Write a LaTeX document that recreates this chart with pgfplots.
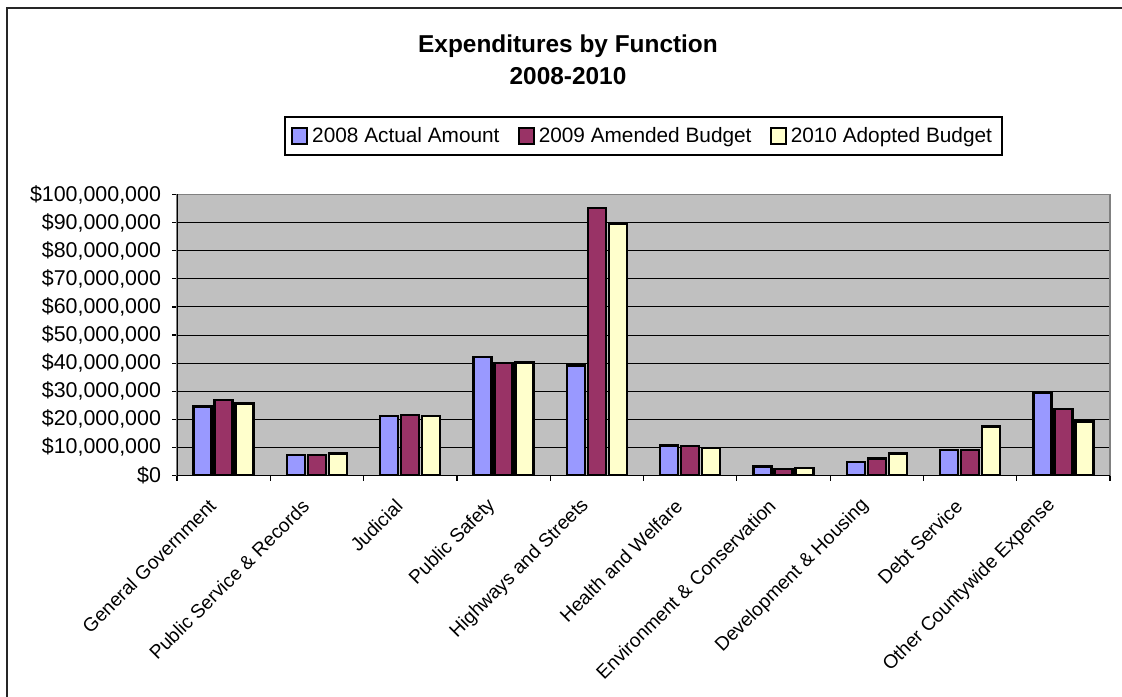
\documentclass[border=0pt]{standalone}
\usepackage{pgfplots}
\pgfplotsset{compat=1.18}
\usepackage{fontspec}
\setmainfont{Liberation Sans}
\definecolor{bblue}{HTML}{9999FF}
\definecolor{bred}{HTML}{993366}
\definecolor{byellow}{HTML}{FFFFCC}
\definecolor{bgray}{HTML}{C0C0C0}
\definecolor{frame}{HTML}{808080}
\begin{document}
\begin{tikzpicture}
\useasboundingbox (0,0) rectangle (561pt,348pt);
\draw[line width=1pt, black!85] (3.5pt,-2pt) -- (3.5pt,344pt) -- (563pt,344pt);
\begin{axis}[
  at={(88.5pt,110.25pt)}, anchor=south west,
  scale only axis, width=466.5pt, height=140.5pt,
  xmin=-0.5, xmax=9.5, ymin=0, ymax=100,
  axis background/.style={fill=bgray},
  axis line style={draw=frame, line width=0.6pt},
  ybar, bar width=9pt,
  ymajorgrids, grid style={black, line width=0.5pt},
  tick align=outside, tick pos=left,
  major tick length=2.5pt,
  tick style={black, line width=0.6pt},
  ytick={0,10,...,100},
  yticklabels={{\$0},{\$10,000,000},{\$20,000,000},{\$30,000,000},{\$40,000,000},{\$50,000,000},{\$60,000,000},{\$70,000,000},{\$80,000,000},{\$90,000,000},{\$100,000,000}},
  xtick={-0.5,0.5,...,9.5},
  xticklabels={},
  extra x ticks={0,1,2,3,4,5,6,7,8,9},
  extra x tick labels={General Government,Public Service \& Records,Judicial,Public Safety,Highways and Streets,Health and Welfare,Environment \& Conservation,Development \& Housing,Debt Service,Other Countywide Expense},
  extra x tick style={major tick length=0pt, grid=none},
  yticklabel style={font=\fontsize{10.7}{12}\selectfont, xshift=-2pt},
  xticklabel style={font=\fontsize{9.6}{11.5}\selectfont, xshift=-5.5pt, yshift=-13.5pt, rotate=45, anchor=east, inner sep=0pt},
  legend columns=3,
  legend style={at={(0.5,1.208)}, anchor=center, draw=black, line width=0.6pt,
    font=\fontsize{10.4}{12}\selectfont, inner xsep=3pt, inner ysep=3pt,
    /tikz/every even column/.append style={column sep=7pt}},
  legend image code/.code={\draw[#1, line width=1pt] (0pt,-3.8pt) rectangle (7.6pt,3.8pt);},
  every axis plot/.append style={draw=black, line width=1.2pt},
]
\addplot[fill=bblue, bar shift=-10.5pt] coordinates {(0,24.6) (1,7.4) (2,21.2) (3,42.1) (4,39.1) (5,10.7) (6,3.2) (7,4.9) (8,9.0) (9,29.5)};
\addplot[fill=bred, bar shift=0pt] coordinates {(0,26.9) (1,7.3) (2,21.5) (3,40.0) (4,95.3) (5,10.4) (6,2.3) (7,6.1) (8,9.0) (9,23.7)};
\addplot[fill=byellow, bar shift=10.5pt] coordinates {(0,25.6) (1,7.8) (2,21.1) (3,40.2) (4,89.4) (5,9.7) (6,2.6) (7,7.9) (8,17.5) (9,19.2)};
\legend{2008 Actual Amount,2009 Amended Budget,2010 Adopted Budget}
\draw[black, line width=0.8pt] (rel axis cs:0,1) -- (rel axis cs:0,0) -- (rel axis cs:1,0);
\end{axis}
\node[align=center, font=\fontsize{12.2}{16}\selectfont\bfseries] at (284pt,318pt) {Expenditures by Function\\2008-2010};
\end{tikzpicture}
\end{document}
